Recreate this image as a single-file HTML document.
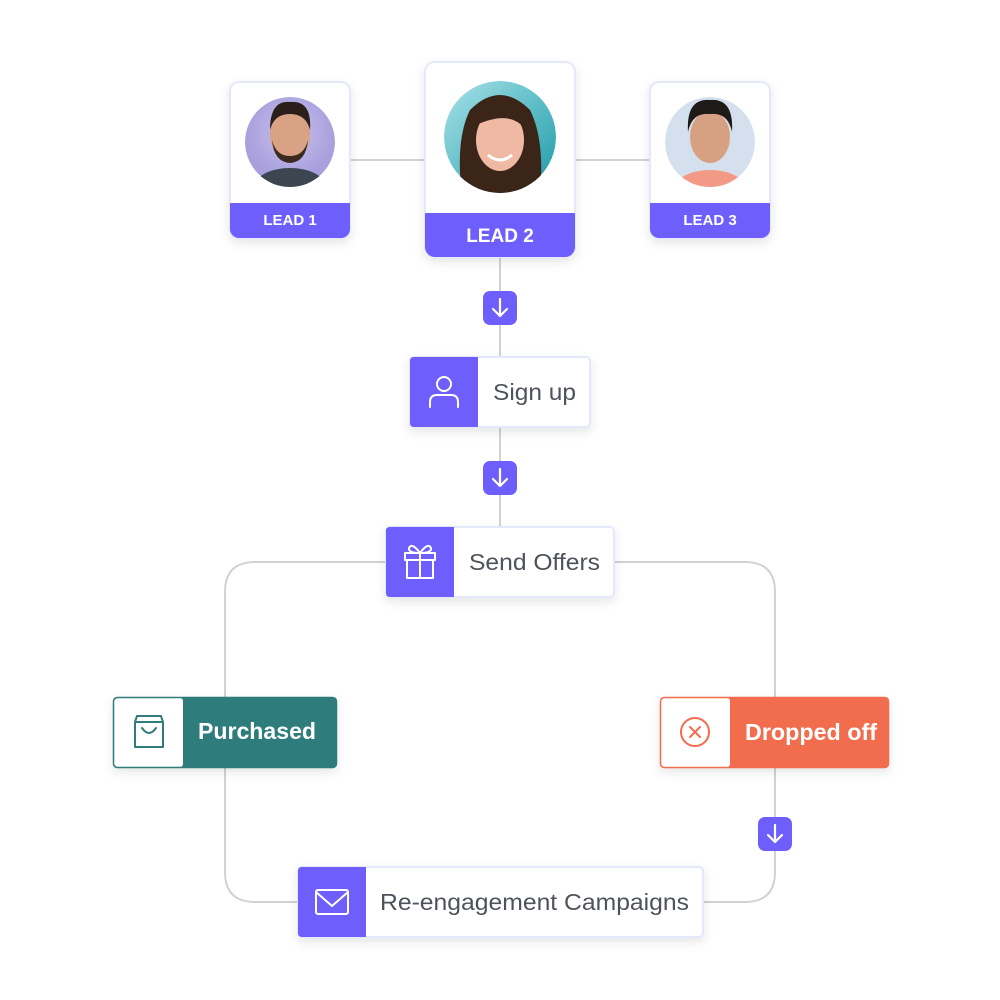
<!DOCTYPE html>
<html><head><meta charset="utf-8"><style>
html,body{margin:0;padding:0;background:#fff;width:1000px;height:1000px;overflow:hidden}
text{font-family:"Liberation Sans",Arial,sans-serif}
</style></head><body>
<svg width="1000" height="1000" viewBox="0 0 1000 1000" xmlns="http://www.w3.org/2000/svg">
<defs>
<filter id="sh" x="-20%" y="-20%" width="140%" height="160%"><feDropShadow dx="0" dy="4" stdDeviation="5" flood-color="#000" flood-opacity="0.10"/></filter>
<radialGradient id="g1" cx="50%" cy="40%"><stop offset="0" stop-color="#c9c2ee"/><stop offset="1" stop-color="#a89fdc"/></radialGradient>
<linearGradient id="g2" x1="0" y1="0" x2="1" y2="1"><stop offset="0" stop-color="#a8e2ea"/><stop offset="1" stop-color="#1a9aa6"/></linearGradient>
<clipPath id="c1"><circle cx="290" cy="142" r="45"/></clipPath>
<clipPath id="c2"><circle cx="500" cy="137" r="56"/></clipPath>
<clipPath id="c3"><circle cx="710" cy="142" r="45"/></clipPath>
<clipPath id="k1"><rect x="230" y="82" width="120" height="156" rx="9"/></clipPath>
<clipPath id="k2"><rect x="425" y="62" width="150" height="195" rx="10"/></clipPath>
<clipPath id="k3"><rect x="650" y="82" width="120" height="156" rx="9"/></clipPath>
</defs>
<g fill="none" stroke="#d2d2d2" stroke-width="2">
<line x1="350" y1="160" x2="425" y2="160"/><line x1="575" y1="160" x2="650" y2="160"/>
<line x1="500" y1="257" x2="500" y2="527"/>
<path d="M386 562 H255 Q225 562 225 592 V872 Q225 902 255 902 H298"/>
<path d="M614 562 H745 Q775 562 775 592 V872 Q775 902 745 902 H703"/>
</g>
<g filter="url(#sh)">
<rect x="230" y="82" width="120" height="156" rx="9" fill="#fff" stroke="#e3e8fb" stroke-width="2"/>
<rect x="425" y="62" width="150" height="195" rx="10" fill="#fff" stroke="#e3e8fb" stroke-width="2"/>
<rect x="650" y="82" width="120" height="156" rx="9" fill="#fff" stroke="#e3e8fb" stroke-width="2"/>
</g>
<rect x="230" y="203" width="120" height="35" fill="#6e5ffc" clip-path="url(#k1)"/>
<rect x="425" y="213" width="150" height="44" fill="#6e5ffc" clip-path="url(#k2)"/>
<rect x="650" y="203" width="120" height="35" fill="#6e5ffc" clip-path="url(#k3)"/>
<text x="290" y="225" font-size="15" font-weight="bold" fill="#fff" text-anchor="middle">LEAD 1</text>
<text x="500" y="242" font-size="19" font-weight="bold" fill="#fff" text-anchor="middle">LEAD 2</text>
<text x="710" y="225" font-size="15" font-weight="bold" fill="#fff" text-anchor="middle">LEAD 3</text>
<g clip-path="url(#c1)"><circle cx="290" cy="142" r="45" fill="url(#g1)"/>
<ellipse cx="290" cy="190" rx="38" ry="22" fill="#3d4550"/>
<ellipse cx="290" cy="135" rx="20" ry="26" fill="#d9a285"/>
<path d="M270 130 Q270 100 290 102 Q312 100 310 130 Q306 114 290 114 Q274 114 270 130Z" fill="#2a1f1a"/>
<path d="M272 140 Q274 162 290 163 Q306 162 308 140 Q304 156 290 156 Q276 156 272 140Z" fill="#3a2a22"/></g>
<g clip-path="url(#c2)"><circle cx="500" cy="137" r="56" fill="url(#g2)"/>
<path d="M462 195 Q455 140 470 110 Q500 80 530 110 Q545 140 540 195Z" fill="#3b2418"/>
<ellipse cx="500" cy="140" rx="24" ry="31" fill="#f0b9a3"/>
<path d="M476 125 Q480 95 505 98 Q526 102 524 128 Q510 110 476 125Z" fill="#3b2418"/>
<path d="M488 155 Q500 165 512 155" stroke="#fff" stroke-width="3" fill="none"/></g>
<g clip-path="url(#c3)"><circle cx="710" cy="142" r="45" fill="#d4e0ee"/>
<ellipse cx="710" cy="192" rx="38" ry="22" fill="#f29a86"/>
<ellipse cx="710" cy="137" rx="20" ry="26" fill="#d8a083"/>
<path d="M688 132 Q686 98 710 100 Q734 98 732 132 Q728 112 710 114 Q692 112 688 132Z" fill="#1e1a18"/></g>
<g fill="#6e5ffc"><rect x="483" y="291" width="34" height="34" rx="7"/><rect x="483" y="461" width="34" height="34" rx="7"/><rect x="758" y="817" width="34" height="34" rx="7"/></g>
<g stroke="#fff" stroke-width="2.2" fill="none" stroke-linecap="round" stroke-linejoin="round">
<path d="M500 299 V316 M493 309 L500 316 L507 309"/>
<path d="M500 469 V486 M493 479 L500 486 L507 479"/>
<path d="M775 825 V842 M768 835 L775 842 L782 835"/>
</g>
<g filter="url(#sh)">
<rect x="410" y="357" width="180" height="70" rx="4" fill="#fff" stroke="#e3e8fb" stroke-width="2"/>
<rect x="386" y="527" width="228" height="70" rx="4" fill="#fff" stroke="#e3e8fb" stroke-width="2"/>
<rect x="298" y="867" width="405" height="70" rx="4" fill="#fff" stroke="#e3e8fb" stroke-width="2"/>
<rect x="113" y="697" width="224" height="71" rx="4" fill="#2e7d7b"/>
<rect x="660" y="697" width="229" height="71" rx="4" fill="#f26d4e"/>
</g>
<path d="M414 357 H478 V427 H414 Q410 427 410 423 V361 Q410 357 414 357Z" fill="#6e5ffc"/>
<path d="M390 527 H454 V597 H390 Q386 597 386 593 V531 Q386 527 390 527Z" fill="#6e5ffc"/>
<path d="M302 867 H366 V937 H302 Q298 937 298 933 V871 Q298 867 302 867Z" fill="#6e5ffc"/>
<rect x="114" y="698" width="69" height="69" rx="3" fill="#fff"/>
<rect x="661" y="698" width="69" height="69" rx="3" fill="#fff"/>
<rect x="113.5" y="697.5" width="223" height="70" rx="4" fill="none" stroke="#2e7d7b" stroke-width="1.5"/>
<rect x="660.5" y="697.5" width="228" height="70" rx="4" fill="none" stroke="#f26d4e" stroke-width="1.5"/>
<g stroke="#fff" stroke-width="2" fill="none" stroke-linecap="round" stroke-linejoin="round">
<circle cx="444" cy="384" r="7"/><path d="M430 407 V402 Q430 395 437 395 H451 Q458 395 458 402 V407"/>
<rect x="405" y="553" width="30" height="7"/><path d="M407 560 V578 H433 V560 M420 553 V578 M420 553 Q412 542 409 548 Q408 553 420 553 Q432 553 431 548 Q428 542 420 553"/>
<rect x="316" y="890" width="32" height="24" rx="2"/><path d="M316 892 L332 906 L348 892"/>
</g>
<g stroke="#2e7d7b" stroke-width="2" fill="none" stroke-linecap="round" stroke-linejoin="round">
<path d="M137 716 H161 L163 722 V747 H135 V722Z M135 722 H163 M142 728 Q149 738 156 728"/>
</g>
<g stroke="#f26d4e" stroke-width="2" fill="none" stroke-linecap="round">
<circle cx="695" cy="732" r="14"/><path d="M690 727 L700 737 M700 727 L690 737"/>
</g>
<text x="493" y="400" font-size="23" fill="#4e525c" textLength="83" lengthAdjust="spacingAndGlyphs">Sign up</text>
<text x="469" y="570" font-size="23" fill="#4e525c" textLength="131" lengthAdjust="spacingAndGlyphs">Send Offers</text>
<text x="380" y="910" font-size="23" fill="#4e525c" textLength="309" lengthAdjust="spacingAndGlyphs">Re-engagement Campaigns</text>
<text x="198" y="739" font-size="23" font-weight="bold" fill="#fff" textLength="118" lengthAdjust="spacingAndGlyphs">Purchased</text>
<text x="745" y="740" font-size="23" font-weight="bold" fill="#fff" textLength="132" lengthAdjust="spacingAndGlyphs">Dropped off</text>
</svg>
</body></html>
